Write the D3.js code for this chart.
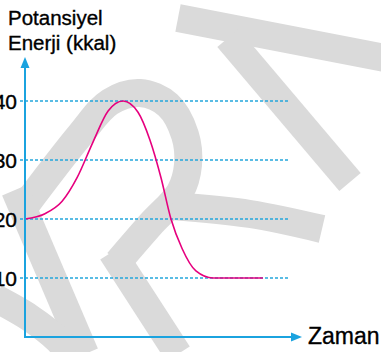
<!DOCTYPE html>
<html>
<head>
<meta charset="utf-8">
<script src="https://cdn.jsdelivr.net/npm/d3@7"></script>
<style>
  html, body { margin: 0; padding: 0; background: #fff; }
  #chart { width: 381px; height: 352px; }
  text { font-family: "Liberation Sans", Arial, sans-serif; fill: #000; stroke: #000; stroke-width: 0.35px; }
</style>
</head>
<body>
<div id="chart"></div>
<script>
// chart values
const times = [0, 7.2, 13.4, 18.8, 24.5, 30, 35.4, 40.8, 45.1, 49.1, 52.7, 56.7, 61.7, 67.9, 85.9];
const energies = [20, 20.9, 23, 27, 33, 38.3, 40, 38.1, 33.4, 27, 20, 15, 11.2, 10, 10];
const yTicks = [10, 20, 30, 40];
const yTitle = ["Potansiyel", "Enerji (kkal)"];
const xTitle = "Zaman";

// background watermark strokes (decoration only)
const watermark = [
  [[22, 210], [80, 135], [110, 102], [140, 93], [168, 105], [185, 135], [188, 165], [180, 192], [150, 225], [118, 262]],
  [[172, 206], [250, 214], [322, 229]],
  [[15, 190], [85, 354]],
  [[112, 252], [178, 354]],
  [[-5, 298], [30, 318], [58, 340], [70, 354]],
  [[178, 18], [385, 58]],
  [[228, 38], [350, 182]]
];

const width = document.querySelector("#chart").clientWidth;
const height = document.querySelector("#chart").clientHeight;

const svg = d3.select("#chart")
  .append("svg")
  .attr("width", width)
  .attr("height", height);

const margin = { top: 101, left: 25, right: 79, bottom: 15 };
const axisColor = "#1ba3df";

// scales
const xScale = d3.scaleLinear()
  .domain([0, 100])
  .range([margin.left, width - margin.right]);

const yScale = d3.scaleLinear()
  .domain([0, 40])
  .range([height - margin.bottom, margin.top]);

// watermark
svg.append("g")
  .selectAll("path")
  .data(watermark)
  .enter()
  .append("path")
    .attr("d", d3.line().curve(d3.curveCatmullRom))
    .attr("fill", "none")
    .attr("stroke", "#dadada")
    .attr("stroke-width", 28);

// dotted grid lines
svg.append("g")
  .selectAll("line")
  .data(yTicks)
  .enter()
  .append("line")
    .attr("x1", margin.left - 5)
    .attr("x2", xScale(95))
    .attr("y1", d => yScale(d))
    .attr("y2", d => yScale(d))
    .attr("stroke", "#25a6dc")
    .attr("stroke-width", 1.5)
    .attr("stroke-dasharray", "3,2");

// tick labels
svg.append("g")
  .selectAll("text")
  .data(yTicks)
  .enter()
  .append("text")
    .attr("x", margin.left - 8)
    .attr("y", d => yScale(d))
    .attr("dy", "0.36em")
    .attr("text-anchor", "end")
    .attr("font-size", 21)
    .text(d => d);

// curve
const line = d3.line()
  .x((d, i) => xScale(times[i]))
  .y(d => yScale(d))
  .curve(d3.curveMonotoneX);

svg.append("path")
  .datum(energies)
  .attr("d", line)
  .attr("fill", "none")
  .attr("stroke", "#e6007e")
  .attr("stroke-width", 1.6);

// axes with arrows
const x0 = xScale(0), y0 = yScale(0);
const yTop = 57, xEnd = xScale(100);

svg.append("line")
  .attr("x1", x0).attr("x2", x0)
  .attr("y1", y0 + 1).attr("y2", yTop + 8)
  .attr("stroke", axisColor).attr("stroke-width", 2);

svg.append("line")
  .attr("x1", x0 - 1).attr("x2", xEnd - 8)
  .attr("y1", y0).attr("y2", y0)
  .attr("stroke", axisColor).attr("stroke-width", 2);

svg.append("path")
  .attr("d", `M${x0},${yTop} L${x0 - 4.5},${yTop + 11} L${x0 + 4.5},${yTop + 11} Z`)
  .attr("fill", axisColor);

svg.append("path")
  .attr("d", `M${xEnd},${y0} L${xEnd - 11},${y0 - 4.5} L${xEnd - 11},${y0 + 4.5} Z`)
  .attr("fill", axisColor);

// axis titles
svg.append("text")
  .attr("x", 8)
  .attr("y", 25)
  .attr("font-size", 20.5)
  .selectAll("tspan")
  .data(yTitle)
  .enter()
  .append("tspan")
    .attr("x", 8)
    .attr("dy", (d, i) => i === 0 ? 0 : 25)
    .text(d => d);

svg.append("text")
  .attr("x", xEnd + 6)
  .attr("y", y0 + 7)
  .attr("font-size", 23)
  .text(xTitle);
</script>
</body>
</html>
